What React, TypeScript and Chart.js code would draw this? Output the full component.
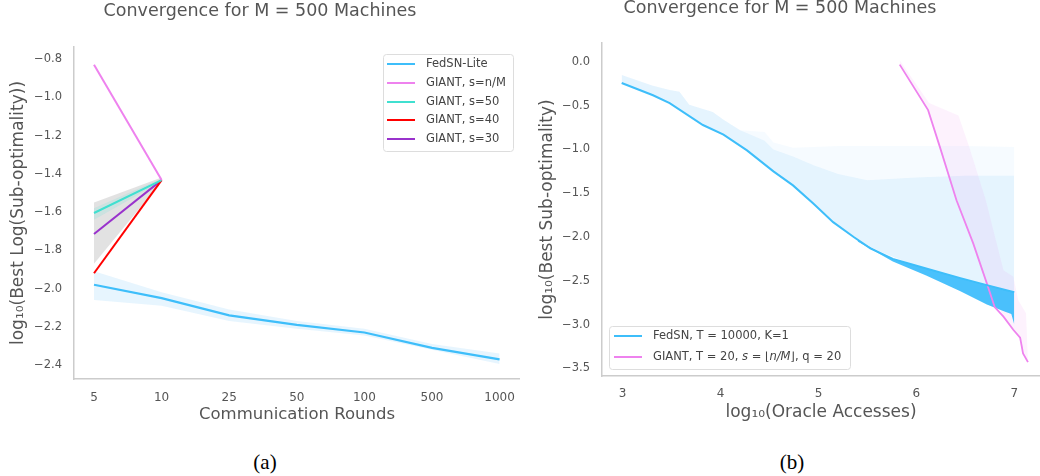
import React, { useEffect, useRef } from 'react';
import { Chart, registerables } from 'chart.js';

Chart.register(...registerables);

const FONT = '"DejaVu Sans", sans-serif';
const MATH_FONT = '"DejaVu Sans", sans-serif';
const TEXT = '#555555';
const AXIS = '#cccccc';

const BLUE = '#3ebefa';
const VIOLET = '#ee82ee';
const TURQ = '#40e0d0';
const RED = '#ff0000';
const ORCHID = '#9932cc';

// ---------- Panel (a) ----------
const roundLabels = ['5', '10', '25', '50', '100', '500', '1000'];
const leftYTicks = [-0.8, -1.0, -1.2, -1.4, -1.6, -1.8, -2.0, -2.2, -2.4];
const fedsnLite = [-1.98, -2.05, -2.14, -2.19, -2.23, -2.31, -2.37];
const fedsnLiteUpper = [-1.91, -2.02, -2.11, -2.17, -2.21, -2.29, -2.34];
const fedsnLiteLower = [-2.06, -2.09, -2.17, -2.21, -2.245, -2.32, -2.395];
const giantNM = [-0.83, -1.433];
const giant50 = [-1.605, -1.433];
const giant40 = [-1.92, -1.433];
const giant30 = [-1.715, -1.433];
const giantGreyUpper = [-1.55, -1.42];
const giantGreyLower = [-1.87, -1.44];
const giant50Upper = [-1.58, -1.425];
const giant50Lower = [-1.64, -1.44];

// ---------- Panel (b) ----------
const rightXTicks = [3, 4, 5, 6, 7];
const rightYTicks = [0, -0.5, -1.0, -1.5, -2.0, -2.5, -3.0, -3.5];
const fedsnX = [2.99, 3.31, 3.48, 3.82, 4.03, 4.27, 4.54, 4.74, 4.95, 5.15, 5.36, 5.53, 5.76, 6.10, 6.45, 6.72, 7.0];
const fedsnY = [-0.24, -0.38, -0.47, -0.72, -0.83, -1.01, -1.25, -1.41, -1.62, -1.83, -2.0, -2.13, -2.25, -2.36, -2.47, -2.55, -2.63];
const noiseX = [5.4, 5.76, 6.1, 6.45, 6.72, 6.9, 6.97, 7.0];
const noiseUpper = [-2.04, -2.25, -2.36, -2.47, -2.55, -2.6, -2.62, -2.63];
const noiseLower = [-2.05, -2.28, -2.44, -2.62, -2.77, -2.85, -2.88, -3.0];
const bandX = [2.99, 3.3, 3.48, 3.58, 3.68, 3.92, 4.03, 4.2, 4.45, 4.54, 4.74, 4.95, 5.2, 5.5, 6.0, 6.5, 7.0];
const bandLower = [-0.24, -0.38, -0.47, -0.54, -0.61, -0.77, -0.83, -0.95, -1.17, -1.25, -1.41, -1.62, -1.87, -2.11, -2.33, -2.49, -2.63];
const bandInner = [-0.15, -0.27, -0.32, -0.34, -0.49, -0.57, -0.66, -0.78, -0.9, -1.0, -1.08, -1.18, -1.28, -1.35, -1.32, -1.3, -1.3];
const bandOuter = [-0.15, -0.27, -0.32, -0.34, -0.49, -0.57, -0.66, -0.78, -0.8, -0.92, -0.98, -0.97, -0.96, -0.96, -0.96, -0.96, -0.97];
const giantX = [5.83, 6.12, 6.24, 6.41, 6.58, 6.72, 6.8, 6.89, 6.99, 7.06, 7.09, 7.14];
const giantY = [-0.03, -0.55, -0.97, -1.58, -2.07, -2.53, -2.8, -2.91, -3.06, -3.15, -3.33, -3.43];
const pinkBandX = [5.83, 6.13, 6.43, 6.54, 6.71, 6.89, 6.99, 7.04, 7.12, 7.14];
const pinkBandUpper = [0.02, -0.47, -0.61, -0.97, -1.58, -2.38, -2.45, -2.72, -2.87, -3.42];
const pinkBandLower = [-0.03, -0.57, -1.63, -1.97, -2.49, -2.91, -3.06, -3.12, -3.38, -3.43];

const idxPts = (ys: number[]) => ys.map((y, i) => ({ x: i, y }));
const xyPts = (xs: number[], ys: number[]) => xs.map((x, i) => ({ x, y: ys[i] }));

const fmt = (v: number, d: number) => {
  if (Math.abs(v) < 1e-9) return (0).toFixed(d);
  return v.toFixed(d).replace('-', '\u2212');
};

const lineDs = (data: any[], color: string, width: number) => ({
  data,
  borderColor: color,
  borderWidth: width,
  pointRadius: 0,
  fill: false,
  tension: 0,
});

const bandDs = (data: any[], color: string, target: number | false) => ({
  data,
  borderWidth: 0,
  borderColor: 'rgba(0,0,0,0)',
  backgroundColor: color,
  pointRadius: 0,
  fill: target === false ? false : target,
  tension: 0,
});

const noPad = (s: any) => {
  s.paddingLeft = 0;
  s.paddingRight = 0;
  s.paddingTop = 0;
  s.paddingBottom = 0;
};

type Part = { text: string; italic?: boolean; math?: boolean };
type LegendEntry = { color: string; parts: Part[] };
type LegendBox = { x: number; y: number; w: number; h: number; rows: number[]; lineX: [number, number]; textX: number; size: number; entries: LegendEntry[] };

const makeLegendPlugin = (box: LegendBox) => ({
  id: 'customLegend',
  afterDraw(chart: any) {
    const ctx = chart.ctx as CanvasRenderingContext2D;
    ctx.save();
    ctx.beginPath();
    (ctx as any).roundRect(box.x + 0.5, box.y + 0.5, box.w, box.h, 3);
    ctx.fillStyle = 'rgba(255,255,255,0.85)';
    ctx.fill();
    ctx.strokeStyle = '#dddddd';
    ctx.lineWidth = 1;
    ctx.stroke();
    box.entries.forEach((e, i) => {
      const y = box.rows[i];
      ctx.beginPath();
      ctx.moveTo(box.lineX[0], y);
      ctx.lineTo(box.lineX[1], y);
      ctx.strokeStyle = e.color;
      ctx.lineWidth = 2;
      ctx.stroke();
      let x = box.textX;
      ctx.fillStyle = '#444444';
      ctx.textBaseline = 'middle';
      ctx.textAlign = 'left';
      e.parts.forEach((p) => {
        const fam = p.math ? MATH_FONT : FONT;
        ctx.font = `${p.italic ? 'italic ' : ''}${box.size}px ${fam}`;
        ctx.fillText(p.text, x, y);
        x += ctx.measureText(p.text).width;
      });
    });
    ctx.restore();
  },
});

const leftConfig = () => ({
  type: 'line',
  data: {
    datasets: [
      lineDs(idxPts(giantNM), VIOLET, 2),
      lineDs(idxPts(giant50), TURQ, 2),
      lineDs(idxPts(giant40), RED, 2),
      lineDs(idxPts(giant30), ORCHID, 2),
      lineDs(idxPts(fedsnLite), BLUE, 2.2),
      bandDs(idxPts(giant50Upper), 'rgba(64,224,208,0.15)', 6),
      bandDs(idxPts(giant50Lower), 'rgba(0,0,0,0)', false),
      bandDs(idxPts(giantGreyUpper), 'rgba(190,190,190,0.45)', 8),
      bandDs(idxPts(giantGreyLower), 'rgba(0,0,0,0)', false),
      bandDs(idxPts(fedsnLiteUpper), 'rgba(135,206,250,0.2)', 10),
      bandDs(idxPts(fedsnLiteLower), 'rgba(0,0,0,0)', false),
    ],
  },
  options: {
    responsive: false,
    animation: false,
    devicePixelRatio: 1,
    events: [],
    layout: { padding: 0 },
    plugins: {
      legend: { display: false },
      tooltip: { enabled: false },
      title: {
        display: true,
        text: 'Convergence for M = 500 Machines',
        color: TEXT,
        font: { family: FONT, size: 17.5, weight: 'normal', lineHeight: 1 },
        padding: { top: 3, bottom: 26.5 },
      },
    },
    scales: {
      x: {
        type: 'linear',
        min: -0.296,
        max: 6.302,
        grid: { display: false, drawTicks: false },
        border: { display: true, color: AXIS, width: 1.5 },
        afterBuildTicks: (s: any) => {
          s.ticks = roundLabels.map((_, i) => ({ value: i }));
        },
        ticks: {
          callback: (v: number) => roundLabels[Math.round(v)],
          color: TEXT,
          font: { family: FONT, size: 12 },
          padding: 12,
          maxRotation: 0,
          autoSkip: false,
        },
        title: {
          display: true,
          text: 'Communication Rounds',
          color: TEXT,
          font: { family: FONT, size: 16.5, lineHeight: 1.2 },
          padding: { top: 0, bottom: 15 },
        },
        afterFit: (s: any) => {
          s.height = 61;
          noPad(s);
        },
      },
      y: {
        type: 'linear',
        min: -2.473,
        max: -0.737,
        grid: { display: false, drawTicks: false },
        border: { display: true, color: AXIS, width: 1.5 },
        afterBuildTicks: (s: any) => {
          s.ticks = leftYTicks.map((v) => ({ value: v }));
        },
        ticks: {
          callback: (v: number) => fmt(v, 1),
          color: TEXT,
          font: { family: FONT, size: 11.5 },
          padding: 12,
        },
        title: {
          display: true,
          text: 'log\u2081\u2080(Best Log(Sub-optimality))',
          color: TEXT,
          font: { family: FONT, size: 17, lineHeight: 1.2 },
          padding: { top: 8, bottom: 0 },
        },
        afterFit: (s: any) => {
          s.width = 74;
          noPad(s);
        },
      },
    },
  },
  plugins: [
    makeLegendPlugin({
      x: 383,
      y: 54,
      w: 130,
      h: 97,
      rows: [64, 83, 102, 120, 139],
      lineX: [387, 415],
      textX: 426,
      size: 11.5,
      entries: [
        { color: BLUE, parts: [{ text: 'FedSN-Lite' }] },
        { color: VIOLET, parts: [{ text: 'GIANT, s=n/M' }] },
        { color: TURQ, parts: [{ text: 'GIANT, s=50' }] },
        { color: RED, parts: [{ text: 'GIANT, s=40' }] },
        { color: ORCHID, parts: [{ text: 'GIANT, s=30' }] },
      ],
    }),
  ],
});

const rightConfig = () => ({
  type: 'line',
  data: {
    datasets: [
      lineDs(xyPts(fedsnX, fedsnY), BLUE, 2),
      lineDs(xyPts(giantX, giantY), VIOLET, 1.8),
      bandDs(xyPts(noiseX, noiseUpper), 'rgba(64,190,252,0.95)', 3),
      bandDs(xyPts(noiseX, noiseLower), 'rgba(0,0,0,0)', false),
      bandDs(xyPts(pinkBandX, pinkBandUpper), 'rgba(238,130,238,0.1)', 5),
      bandDs(xyPts(pinkBandX, pinkBandLower), 'rgba(0,0,0,0)', false),
      bandDs(xyPts(bandX, bandInner), 'rgba(135,206,250,0.16)', 8),
      bandDs(xyPts(bandX, bandOuter), 'rgba(135,206,250,0.08)', 8),
      bandDs(xyPts(bandX, bandLower), 'rgba(0,0,0,0)', false),
    ],
  },
  options: {
    responsive: false,
    animation: false,
    devicePixelRatio: 1,
    events: [],
    layout: { padding: 0 },
    plugins: {
      legend: { display: false },
      tooltip: { enabled: false },
      title: {
        display: true,
        text: 'Convergence for M = 500 Machines',
        color: TEXT,
        font: { family: FONT, size: 17.5, weight: 'normal', lineHeight: 1 },
        padding: { top: 0, bottom: 25.5 },
      },
    },
    scales: {
      x: {
        type: 'linear',
        min: 2.789,
        max: 7.263,
        grid: { display: false, drawTicks: false },
        border: { display: true, color: AXIS, width: 1.5 },
        afterBuildTicks: (s: any) => {
          s.ticks = rightXTicks.map((v) => ({ value: v }));
        },
        ticks: {
          callback: (v: number) => String(v),
          color: TEXT,
          font: { family: FONT, size: 12 },
          padding: 11,
          maxRotation: 0,
          autoSkip: false,
        },
        title: {
          display: true,
          text: 'log\u2081\u2080(Oracle Accesses)',
          color: TEXT,
          font: { family: FONT, size: 17, lineHeight: 1.2 },
          padding: { top: 0, bottom: 17 },
        },
        afterFit: (s: any) => {
          s.height = 64;
          noPad(s);
        },
      },
      y: {
        type: 'linear',
        min: -3.588,
        max: 0.217,
        grid: { display: false, drawTicks: false },
        border: { display: true, color: AXIS, width: 1.5 },
        afterBuildTicks: (s: any) => {
          s.ticks = rightYTicks.map((v) => ({ value: v }));
        },
        ticks: {
          callback: (v: number) => fmt(v, 1),
          color: TEXT,
          font: { family: FONT, size: 11.5 },
          padding: 12,
        },
        title: {
          display: true,
          text: 'log\u2081\u2080(Best Sub-optimality)',
          color: TEXT,
          font: { family: FONT, size: 17, lineHeight: 1.2 },
          padding: { top: 17, bottom: 0 },
        },
        afterFit: (s: any) => {
          s.width = 82;
          noPad(s);
        },
      },
    },
  },
  plugins: [
    makeLegendPlugin({
      x: 89,
      y: 326,
      w: 241,
      h: 43,
      rows: [336, 357],
      lineX: [94, 122],
      textX: 133,
      size: 11.5,
      entries: [
        { color: BLUE, parts: [{ text: 'FedSN, T = 10000, K=1' }] },
        {
          color: VIOLET,
          parts: [
            { text: 'GIANT, T = 20, ' },
            { text: 's', italic: true, math: true },
            { text: ' = \u230A', math: true },
            { text: 'n/M', italic: true, math: true },
            { text: '\u230B', math: true },
            { text: ', q = 20' },
          ],
        },
      ],
    }),
  ],
});

function ChartCanvas({ config, left }: { config: () => any; left: number }) {
  const ref = useRef<HTMLCanvasElement>(null);
  useEffect(() => {
    const chart = new Chart(ref.current as HTMLCanvasElement, config());
    return () => chart.destroy();
  }, [config]);
  return (
    <canvas
      ref={ref}
      width={520}
      height={440}
      style={{ position: 'absolute', left, top: 0, width: 520, height: 440 }}
    />
  );
}

const captionStyle = (cx: number): React.CSSProperties => ({
  position: 'absolute',
  left: cx - 40,
  width: 80,
  top: 450,
  textAlign: 'center',
  fontFamily: '"Liberation Serif", "Times New Roman", serif',
  fontSize: 21,
  lineHeight: '24px',
  color: '#000',
});

export default function App() {
  return (
    <div style={{ position: 'fixed', left: 0, top: 0, width: 1040, height: 476, background: '#fff', overflow: 'hidden' }}>
      <ChartCanvas config={leftConfig} left={0} />
      <ChartCanvas config={rightConfig} left={520} />
      <div style={captionStyle(265)}>(a)</div>
      <div style={captionStyle(792)}>(b)</div>
    </div>
  );
}
